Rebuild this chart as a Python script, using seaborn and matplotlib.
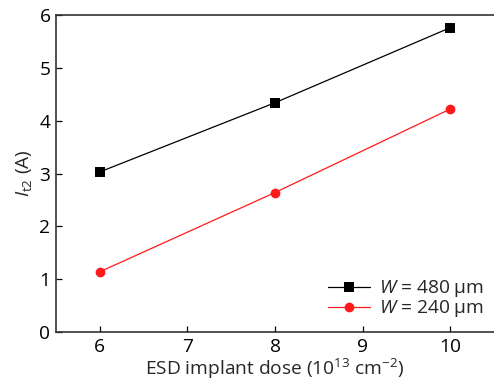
import matplotlib
matplotlib.use("Agg")
import matplotlib.pyplot as plt
import seaborn as sns
import pandas as pd

dose = [6, 8, 10]
w480 = [3.03, 4.34, 5.76]
w240 = [1.14, 2.64, 4.22]
labels = [r"$\mathit{W}$ = 480 μm", r"$\mathit{W}$ = 240 μm"]

sns.set_theme(style="ticks")
plt.rcParams['font.family'] = ['Open Sans', 'DejaVu Sans']
plt.rcParams['mathtext.fontset'] = 'custom'
plt.rcParams['mathtext.rm'] = 'Open Sans'
plt.rcParams['mathtext.it'] = 'Open Sans:italic'

df = pd.DataFrame({
    "dose": dose + dose,
    "It2": w480 + w240,
    "W": [labels[0]] * 3 + [labels[1]] * 3,
})

fig = plt.figure(figsize=(4.94, 3.89), dpi=100)
ax = fig.add_axes([0.1134, 0.1465, 0.8866, 0.8149])

sns.lineplot(data=df, x="dose", y="It2", hue="W", style="W",
             hue_order=labels, style_order=labels,
             palette={labels[0]: "black", labels[1]: "#ff1a1a"},
             markers={labels[0]: "s", labels[1]: "o"}, dashes=False,
             markersize=7, markeredgewidth=0, linewidth=0.9, ax=ax)

fs = 13.8
ax.set_xlim(5.5, 10.5)
ax.set_ylim(0, 6)
ax.set_xticks([6, 7, 8, 9, 10])
ax.set_yticks([0, 1, 2, 3, 4, 5, 6])
ax.tick_params(direction="in", length=4, width=0.9, labelsize=fs, colors="black", pad=4)
for s in ["left", "bottom", "top"]:
    ax.spines[s].set_color("#333333")
    ax.spines[s].set_linewidth(1.2)
ax.spines["right"].set_visible(False)

ax.set_xlabel(r"ESD implant dose (10$^{13}$ cm$^{-2}$)", fontsize=fs, labelpad=1)
ax.set_ylabel(r"$\mathit{I}_\mathrm{t2}$ (A)", fontsize=fs, labelpad=4)

handles, lbls = ax.get_legend_handles_labels()
ax.legend(handles, lbls, loc="lower right", bbox_to_anchor=(1.0, 0.01), frameon=False,
          fontsize=fs, handlelength=2.2, handletextpad=0.5, labelspacing=-0.05,
          borderaxespad=0.1)

fig.savefig("out.png", dpi=100)
